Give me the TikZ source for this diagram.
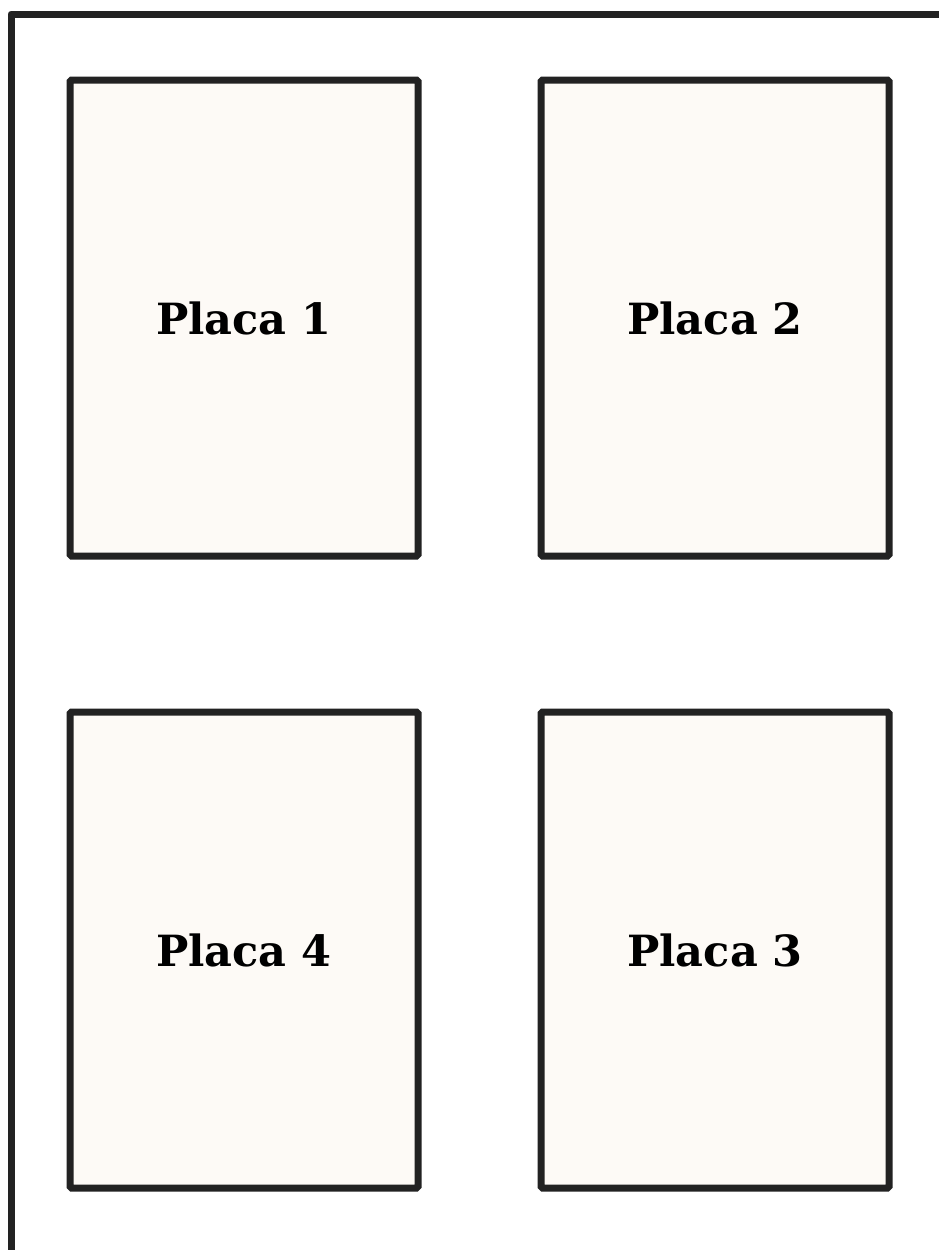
\documentclass[tikz,border=0pt]{standalone}
\usepackage{fontspec}
\setmainfont{DejaVu Serif}
\definecolor{linec}{HTML}{222222}
\definecolor{plate}{HTML}{FDFAF6}
\begin{document}
\begin{tikzpicture}[x=1pt,y=-1pt,
  plaque/.style={draw=linec,fill=plate,line width=7pt,rounded corners=1.5pt,
    minimum width=348pt,minimum height=476pt,inner sep=0pt,
    font=\bfseries\fontsize{43}{50}\selectfont,text=black},
  frame/.style={draw=linec,line width=7pt,line cap=round,line join=round}]
\useasboundingbox (0,0) rectangle (939,1250);
\fill[white] (0,0) rectangle (939,1250);
\coordinate (fbl) at (11,1260);
\coordinate (ftl) at (11,14);
\coordinate (ftr) at (950,14);
\draw[frame] (fbl) -- (ftl) -- (ftr);
\node[plaque] (p1) at (244,318) {Placa 1};
\node[plaque] (p2) at (715,318) {Placa 2};
\node[plaque] (p4) at (244,950) {Placa 4};
\node[plaque] (p3) at (715,950) {Placa 3};
\end{tikzpicture}
\end{document}
